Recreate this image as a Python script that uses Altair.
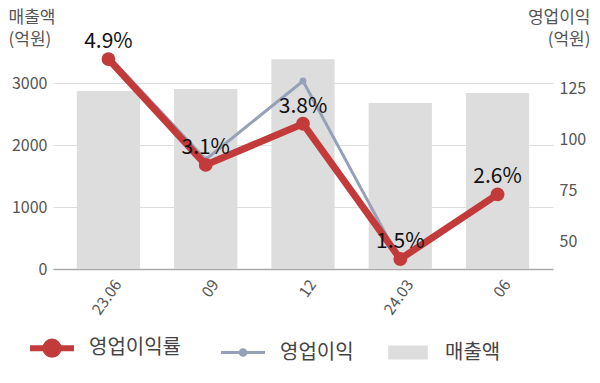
import altair as alt
import pandas as pd

periods = ["23.06", "09", "12", "24.03", "06"]
revenue = [2871, 2903, 3382, 2677, 2839]
profit = [140.7, 90.0, 128.5, 40.2, 73.8]
margin = [4.9, 3.1, 3.8, 1.5, 2.6]
margin_labels = ["4.9%", "3.1%", "3.8%", "1.5%", "2.6%"]

series_names = ["영업이익률", "영업이익", "매출액"]
series_colors = ["#C23A3A", "#95A1B8", "#DDDDDD"]

df = pd.DataFrame({
    "period": periods,
    "revenue": revenue,
    "profit": profit,
    "margin": margin,
    "label": margin_labels,
})
df["s_rev"] = series_names[2]
df["s_prof"] = series_names[1]
df["s_mar"] = series_names[0]

FONT = "Noto Sans CJK KR"

xenc = alt.X("period:N", sort=periods, title=None,
             scale=alt.Scale(paddingInner=0.35, paddingOuter=0.245),
             axis=alt.Axis(labelAngle=-55, labelAlign="right", labelBaseline="top",
                           labelFontSize=15.5, labelColor="#555", labelFont=FONT,
                           labelOffset=4, labelPadding=8,
                           domainColor="#aaa", domainWidth=1.5, ticks=False))

color_scale = alt.Scale(domain=series_names, range=series_colors)

sym_red = "M-1,0H1M0.3,0A0.3,0.3 0 1,1 -0.3,0A0.3,0.3 0 1,1 0.3,0Z"
sym_blue = "M-1,0H1M0.13,0A0.13,0.13 0 1,1 -0.13,0A0.13,0.13 0 1,1 0.13,0Z"
sym_gray = "M-0.9,-0.32H0.9V0.32H-0.9Z"

def pick(a, b, c):
    return f"datum.value === '영업이익률' ? {a} : datum.value === '영업이익' ? {b} : {c}"

legend = alt.Legend(
    orient="none", legendX=-11, legendY=286,
    title=None, direction="horizontal",
    labelFontSize=20, labelColor="#444", labelFont=FONT,
    symbolSize=1936, columnPadding=34, labelOffset=27,
    symbolType=alt.ExprRef(expr=pick(f"'{sym_red}'", f"'{sym_blue}'", f"'{sym_gray}'")),
    symbolFillColor=alt.ExprRef(expr=pick("'#C23A3A'", "'#95A1B8'", "'#DDDDDD'")),
    symbolStrokeColor=alt.ExprRef(expr=pick("'#C23A3A'", "'#95A1B8'", "'#DDDDDD'")),
    symbolStrokeWidth=alt.ExprRef(expr=pick("6", "3", "0")),
    symbolOpacity=1,
)

bars = alt.Chart(df).mark_bar().encode(
    x=xenc,
    y=alt.Y("revenue:Q", scale=alt.Scale(domain=[0, 3500], nice=False),
            axis=alt.Axis(values=[0, 1000, 2000, 3000], format="d", title=["매출액", "(억원)"],
                          titleAngle=0, titleAlign="left", titleBaseline="top",
                          titleX=-45, titleY=-43, titleFontSize=17, titleFontWeight="normal",
                          titleColor="#555", titleFont=FONT, titleLineHeight=22,
                          labelFontSize=16, labelColor="#555", labelFont=FONT,
                          gridColor="#dddddd", domain=False, ticks=False, labelPadding=6)),
    color=alt.Color("s_rev:N", scale=color_scale, legend=legend),
)

profit_line = alt.Chart(df).mark_line(strokeWidth=3, point=alt.OverlayMarkDef(size=45, filled=True, opacity=1)).encode(
    x=xenc,
    y=alt.Y("profit:Q", scale=alt.Scale(domain=[36.3, 142.7], nice=False, zero=False),
            axis=alt.Axis(orient="right", values=[50, 75, 100, 125], title=["영업이익", "(억원)"],
                          titleAngle=0, titleAlign="right", titleBaseline="top",
                          titleX=37, titleY=-43, titleFontSize=17, titleFontWeight="normal",
                          titleColor="#555", titleFont=FONT, titleLineHeight=22,
                          labelFontSize=16, labelColor="#555", labelFont=FONT,
                          grid=False, domain=False, ticks=False, labelPadding=6)),
    color=alt.Color("s_prof:N", scale=color_scale, legend=legend),
)

margin_base = alt.Chart(df).encode(
    x=xenc,
    y=alt.Y("margin:Q", scale=alt.Scale(domain=[1.33, 5.02], nice=False, zero=False), axis=None),
)
margin_line = margin_base.mark_line(strokeWidth=7, point=alt.OverlayMarkDef(size=190, filled=True, opacity=1)).encode(
    color=alt.Color("s_mar:N", scale=color_scale, legend=legend),
)
margin_text = margin_base.mark_text(dy=-17, fontSize=21, color="#111", font=FONT).encode(
    text="label:N",
)

margin_layer = alt.layer(margin_line, margin_text)

chart = alt.layer(bars, profit_line, margin_layer).resolve_scale(y="independent").properties(
    width=500, height=217,
    padding={"left": 0, "top": 0, "right": 0, "bottom": 0},
).configure_view(stroke=None).configure_axis(gridWidth=1)

chart.save("out.html", embed_options={"renderer": "svg", "actions": False})
